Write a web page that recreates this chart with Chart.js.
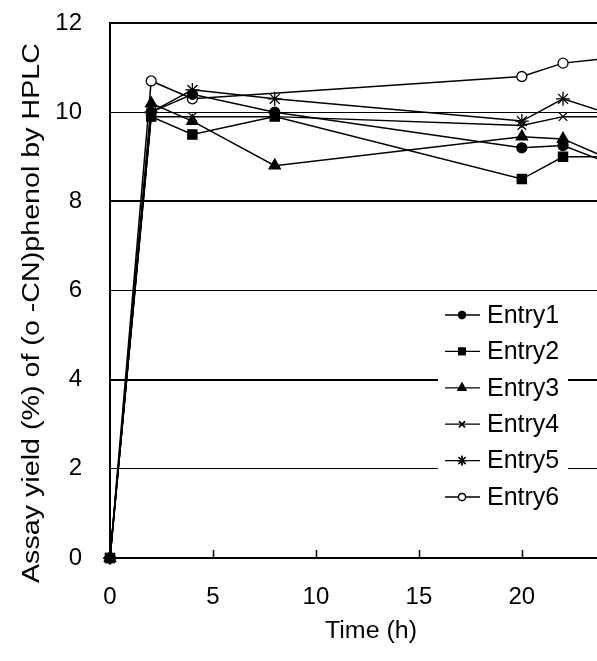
<!DOCTYPE html>
<html>
<head>
<meta charset="utf-8">
<script src="https://cdn.jsdelivr.net/npm/chart.js@4.4.1/dist/chart.umd.min.js"></script>
<style>
  html, body { margin: 0; padding: 0; background: #fff; overflow: hidden; }
  canvas { display: block; }
</style>
</head>
<body>
<canvas id="myChart" width="597" height="661"></canvas>
<script>
// sampling times (h) and assay yield per entry (%)
var times  = [0, 2, 4, 8, 20, 22, 24];
var entry1 = [0, 10.0, 10.4, 10.0, 9.2, 9.25, 8.9];
var entry2 = [0, 9.9, 9.5, 9.9, 8.5, 9.0, 9.0];
var entry3 = [0, 10.2, 9.8, 8.8, 9.45, 9.4, 9.0];
var entry4 = [0, 9.9, 9.9, 9.9, 9.7, 9.9, 9.9];
var entry5 = [0, 10.0, 10.5, 10.3, 9.8, 10.3, 10.0];
var entry6 = [0, 10.7, 10.3, null, 10.8, 11.1, 11.2];

var entryNames = ["Entry1", "Entry2", "Entry3", "Entry4", "Entry5", "Entry6"];
var yTicks = [0, 2, 4, 6, 8, 10, 12];
var xTicks = [0, 5, 10, 15, 20];

var FONT = "'Liberation Sans', Arial, sans-serif";

var markers = [
    { style: 'circle',   radius: 5,   fill: '#000' },
    { style: 'rect',     radius: 6.5, fill: '#000' },
    { style: 'triangle', radius: 6.5, fill: '#000' },
    { style: 'crossRot', radius: 6,   fill: '#000' },
    { style: 'star',     radius: 7,   fill: '#000' },
    { style: 'circle',   radius: 5,   fill: '#fff' }
];

function $each(arr, fn) { for (var i = 0; i < arr.length; i++) fn(i, arr[i]); }

function toPoints(values) {
    var pts = [];
    $each(values, function (i, v) { pts.push({ x: times[i], y: v }); });
    return pts;
}

var allSeries = [entry1, entry2, entry3, entry4, entry5, entry6];
var datasets = [];
$each(allSeries, function (i, values) {
    datasets.push({
        label: entryNames[i],
        data: toPoints(values),
        borderColor: '#000',
        borderWidth: 1.5,
        backgroundColor: markers[i].fill,
        pointStyle: markers[i].style,
        pointRadius: markers[i].radius,
        pointBorderColor: '#000',
        pointBorderWidth: 1.3,
        pointBackgroundColor: markers[i].fill,
        spanGaps: true,
        tension: 0,
        // the 24 h samples sit just past the right edge
        clip: { left: 10, top: 10, right: 0, bottom: 10 },
        order: i === 1 ? -1 : i
    });
});

// inward tick marks, axis titles and the boxed legend
var decorations = {
    id: 'decorations',
    afterDatasetsDraw: function (chart) {
        var ctx = chart.ctx;
        var area = chart.chartArea;
        var xs = chart.scales.x;

        ctx.save();
        ctx.strokeStyle = '#000';
        ctx.lineWidth = 1.5;
        $each(xTicks, function (i, t) {
            if (t === 0) return;
            var px = Math.round(xs.getPixelForValue(t)) + 0.5;
            ctx.beginPath();
            ctx.moveTo(px, area.bottom);
            ctx.lineTo(px, area.bottom - 8);
            ctx.stroke();
        });

        // legend
        ctx.fillStyle = '#fff';
        ctx.fillRect(438, 298, 130, 216);
        ctx.font = '25px ' + FONT;
        ctx.textBaseline = 'middle';
        ctx.textAlign = 'left';
        $each(entryNames, function (i, name) {
            var cy = 315 + i * 36.4;
            ctx.strokeStyle = '#000';
            ctx.lineWidth = 1.3;
            ctx.beginPath();
            ctx.moveTo(445, cy);
            ctx.lineTo(480, cy);
            ctx.stroke();
            Chart.helpers.drawPoint(ctx, {
                pointStyle: markers[i].style,
                radius: markers[i].radius * 0.7,
                borderWidth: 1.2
            }, 462, cy);
            ctx.fillStyle = markers[i].fill;
            ctx.strokeStyle = '#000';
            ctx.fill();
            ctx.stroke();
            ctx.fillStyle = '#000';
            ctx.fillText(name, 487, cy + 1);
        });

        // axis titles
        ctx.fillStyle = '#000';
        ctx.textAlign = 'center';
        ctx.textBaseline = 'middle';
        ctx.font = '23px ' + FONT;
        var xTitle = 'Time (h)';
        var w = ctx.measureText(xTitle).width;
        ctx.save();
        ctx.translate(371, 632);
        ctx.scale(92 / w, 1);
        ctx.fillText(xTitle, 0, 0);
        ctx.restore();

        var yTitle = 'Assay yield (%) of (o -CN)phenol by HPLC';
        ctx.font = '23px ' + FONT;
        w = ctx.measureText(yTitle).width;
        ctx.save();
        ctx.translate(33, 313);
        ctx.rotate(-Math.PI / 2);
        ctx.scale(540 / w, 1);
        ctx.fillText(yTitle, 0, 0);
        ctx.restore();
        ctx.restore();
    }
};

new Chart(document.getElementById('myChart'), {
    type: 'line',
    data: { datasets: datasets },
    options: {
        responsive: false,
        animation: false,
        devicePixelRatio: 1,
        layout: { autoPadding: false, padding: { top: 23, right: 0, left: 0, bottom: 0 } },
        plugins: {
            legend: { display: false },
            tooltip: { enabled: false }
        },
        scales: {
            x: {
                type: 'linear',
                min: 0,
                max: 23.65,
                afterBuildTicks: function (scale) {
                    scale.ticks = xTicks.map(function (v) { return { value: v }; });
                },
                ticks: {
                    font: { family: FONT, size: 24 },
                    color: '#000',
                    padding: 17,
                    maxRotation: 0
                },
                grid: { display: false },
                border: { display: true, color: '#000', width: 1.5 },
                afterFit: function (scale) {
                    scale.height = 103;
                    scale.paddingLeft = 0;
                    scale.paddingRight = 0;
                }
            },
            y: {
                min: 0,
                max: 12,
                afterBuildTicks: function (scale) {
                    scale.ticks = yTicks.map(function (v) { return { value: v }; });
                },
                ticks: {
                    font: { family: FONT, size: 24 },
                    color: '#000',
                    padding: 28
                },
                grid: {
                    color: '#000',
                    drawTicks: false,
                    lineWidth: function (c) {
                        return (c.tick && c.tick.value % 4 === 0) ? 2 : 1;
                    }
                },
                border: { display: true, color: '#000', width: 2 },
                afterFit: function (scale) {
                    scale.width = 110;
                    scale.paddingTop = 0;
                    scale.paddingBottom = 0;
                }
            }
        }
    },
    plugins: [decorations]
});
</script>
</body>
</html>
